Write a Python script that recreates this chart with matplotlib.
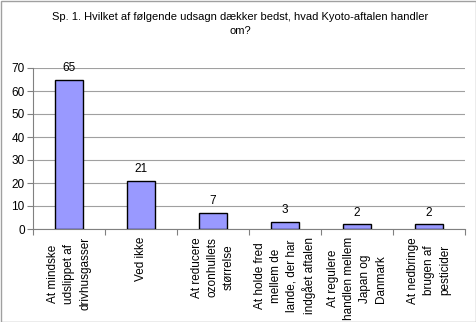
import matplotlib
matplotlib.use("Agg")
import matplotlib.pyplot as plt
from matplotlib.patches import Rectangle

categories = [
    "At mindske\nudslippet af\ndrivhusgasser",
    "Ved ikke",
    "At reducere\nozonhullets\nstørrelse",
    "At holde fred\nmellem de\nlande, der har\nindgået aftalen",
    "At regulere\nhandlen mellem\nJapan og\nDanmark",
    "At nedbringe\nbrugen af\npesticider",
]
values = [65, 21, 7, 3, 2, 2]
yticks = [0, 10, 20, 30, 40, 50, 60, 70]
title = "Sp. 1. Hvilket af følgende udsagn dækker bedst, hvad Kyoto-aftalen handler\nom?"

plt.rcParams["font.family"] = ["Liberation Sans", "DejaVu Sans"]
plt.rcParams["font.size"] = 7.5

W, H = 477, 322
fig = plt.figure(figsize=(W / 100, H / 100), dpi=100)
fig.patches.append(Rectangle((0.5 / W, 0.5 / H), 1 - 1.5 / W, 1 - 1.5 / H,
                             transform=fig.transFigure, fill=False,
                             edgecolor="#a0a0a0", linewidth=1))

ax = fig.add_axes([33 / W, 1 - 229 / H, (465 - 33) / W, (229 - 68) / H])
x = range(len(values))
bars = ax.bar(x, values, width=0.4, color="#9999ff", edgecolor="black",
              linewidth=1, zorder=3)
for xi, v in zip(x, values):
    ax.text(xi, v + 2.5, str(v), ha="center", va="bottom", fontsize=8.5)

ax.set_xlim(-0.5, len(values) - 0.5)
ax.set_ylim(0, 70)
ax.set_yticks(yticks)
ax.yaxis.grid(True, color="#a0a0a0", linewidth=0.8, zorder=0)
for side in ["top", "right"]:
    ax.spines[side].set_visible(False)
ax.spines["left"].set_color("#808080")
ax.spines["bottom"].set_color("#808080")
ax.tick_params(axis="y", length=4, color="#808080", labelsize=8.5, pad=2)

ax.set_xticks([i + 0.5 for i in range(-1, len(values))], minor=False)
ax.set_xticklabels([])
ax.tick_params(axis="x", length=4, color="#808080")
for xi, lab in zip(x, categories):
    ax.text(xi, -3.5, lab, rotation=90, ha="center", va="top",
            multialignment="center", fontsize=8.5, linespacing=1.45)

fig.text(0.503, 1 - 24 / H, title, ha="center", va="center", fontsize=8,
         linespacing=1.6)

fig.savefig("out.png", dpi=100)
